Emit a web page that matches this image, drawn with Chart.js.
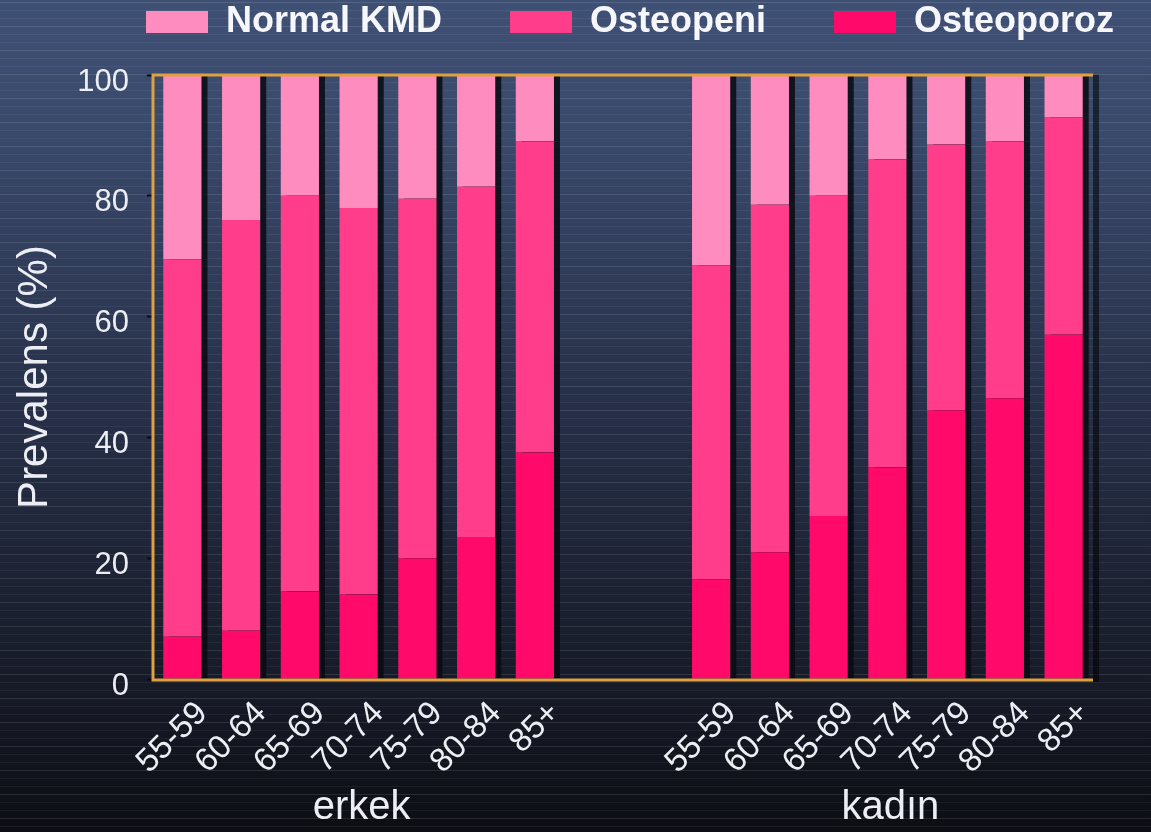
<!DOCTYPE html>
<html>
<head>
<meta charset="utf-8">
<script src="https://cdn.jsdelivr.net/npm/chart.js@4"></script>
<style>
  html, body { margin: 0; background: #0d0f15; }
  #wrap { width: 1151px; height: 832px; position: relative; }
</style>
</head>
<body>
<div id="wrap"><canvas id="chart"></canvas></div>
<script>
// values (% of each age group)
const AGES = ["55-59", "60-64", "65-69", "70-74", "75-79", "80-84", "85+"];
const GROUPS = ["erkek", "kadın"];
const Y_TICKS = [0, 20, 40, 60, 80, 100];

const OSTEOPOROZ_ERKEK = [7, 8, 14.5, 14, 20, 23.5, 37.5];
const OSTEOPENI_ERKEK = [62.5, 68, 65.5, 64, 59.5, 58, 51.5];
const NORMAL_ERKEK = [30.5, 24, 20, 22, 20.5, 18.5, 11];

const OSTEOPOROZ_KADIN = [16.5, 21, 27, 35, 44.5, 46.5, 57];
const OSTEOPENI_KADIN = [52, 57.5, 53, 51, 44, 42.5, 36];
const NORMAL_KADIN = [31.5, 21.5, 20, 14, 11.5, 11, 7];

const GAP = 2; // empty slots between the two groups
const gapLabels = Array(GAP).fill("");
const gapVals = Array(GAP).fill(null);
const labels = [...AGES, ...gapLabels, ...AGES];
const join = (a, b) => [...a, ...gapVals, ...b];

const FONT = '"Liberation Sans", Arial, sans-serif';
const TXT = "#eceef4";

const bgPlugin = {
  id: "bg",
  beforeDraw(chart) {
    const { ctx, width, height } = chart;
    ctx.save();
    const g = ctx.createLinearGradient(0, 0, 0, height);
    g.addColorStop(0, "#3f5075");
    g.addColorStop(0.15, "#3a4a6c");
    g.addColorStop(0.5, "#262f47");
    g.addColorStop(0.82, "#171b28");
    g.addColorStop(1, "#0c0e14");
    ctx.fillStyle = g;
    ctx.fillRect(0, 0, width, height);
    // faint scanline texture
    for (let y = 2; y < height; y += 8) {
      ctx.fillStyle = (y % 24 === 2) ? "rgba(255,255,255,0.11)" : "rgba(255,255,255,0.055)";
      ctx.fillRect(0, y, width, 1);
    }
    ctx.restore();
  },
};

const shadowPlugin = {
  id: "barShadow",
  beforeDatasetsDraw(chart) {
    const ctx = chart.ctx;
    ctx.save();
    ctx.shadowColor = "rgba(8,10,18,0.85)";
    ctx.shadowOffsetX = 6;
    ctx.shadowOffsetY = 0;
    ctx.shadowBlur = 0;
  },
  afterDatasetsDraw(chart) {
    chart.ctx.restore();
  },
};

const framePlugin = {
  id: "frame",
  afterDatasetsDraw(chart) {
    const { ctx, chartArea: a } = chart;
    ctx.save();
    ctx.fillStyle = "rgba(0,0,0,0.55)";
    ctx.fillRect(a.right, a.top, 6, a.bottom - a.top + 3);
    ctx.strokeStyle = "#e0a040";
    ctx.lineWidth = 3;
    ctx.beginPath();
    ctx.moveTo(a.right, a.top);
    ctx.lineTo(a.left, a.top);
    ctx.lineTo(a.left, a.bottom + 1);
    ctx.lineTo(a.right, a.bottom + 1);
    ctx.stroke();
    ctx.restore();
  },
};

const groupPlugin = {
  id: "groupLabels",
  afterDraw(chart) {
    const { ctx, scales } = chart;
    const x = scales.x;
    const mid = (AGES.length - 1) / 2;
    ctx.save();
    ctx.font = "40px " + FONT;
    ctx.fillStyle = TXT;
    ctx.textAlign = "center";
    ctx.textBaseline = "middle";
    GROUPS.forEach((g, i) => {
      const idx = mid + i * (AGES.length + GAP);
      ctx.fillText(g, x.getPixelForValue(idx) + 3, 808);
    });
    ctx.restore();
  },
};

// put the legend where the original has it
const LEG_X = 146, LEG_Y = 4;
const legendPlace = {
  id: "legendPlace",
  afterLayout(chart) {
    const l = chart.legend;
    const p = l.options.labels.padding;
    l.left = LEG_X - p;
    l.top = LEG_Y - p;
    l.right = 4000;
  },
};

new Chart(document.getElementById("chart"), {
  type: "bar",
  data: {
    labels,
    datasets: [
      { label: "Osteoporoz", data: join(OSTEOPOROZ_ERKEK, OSTEOPOROZ_KADIN), backgroundColor: "#ff0a6a" },
      { label: "Osteopeni", data: join(OSTEOPENI_ERKEK, OSTEOPENI_KADIN), backgroundColor: "#ff3d8b" },
      { label: "Normal KMD", data: join(NORMAL_ERKEK, NORMAL_KADIN), backgroundColor: "#ff8cbf" },
    ],
  },
  options: {
    responsive: true,
    maintainAspectRatio: false,
    animation: false,
    layout: { padding: { left: 0, right: 58, top: 0, bottom: 0 } },
    datasets: { bar: { categoryPercentage: 1, barPercentage: 0.65, borderWidth: 0 } },
    scales: {
      x: {
        stacked: true,
        grid: { display: false },
        border: { display: false },
        ticks: {
          color: TXT,
          font: { family: FONT, size: 33 },
          maxRotation: 45,
          minRotation: 45,
          autoSkip: false,
          padding: 7,
          labelOffset: 20,
        },
        afterFit: (s) => { s.height = 153; },
      },
      y: {
        stacked: true,
        min: 0,
        max: 100,
        afterBuildTicks: (s) => { s.ticks = Y_TICKS.map((v) => ({ value: v })); },
        grid: { drawOnChartArea: false, tickLength: 6, tickColor: "#0a0c10", tickWidth: 2 },
        border: { display: false },
        ticks: {
          color: TXT,
          font: { family: FONT, size: 31 },
          padding: 18,
          labelOffset: 7,
        },
        title: {
          display: true,
          text: "Prevalens (%)",
          color: TXT,
          font: { family: FONT, size: 42 },
          padding: { top: 10, bottom: 0 },
        },
        afterFit: (s) => { s.width = 153; },
      },
    },
    plugins: {
      legend: {
        reverse: true,
        align: "start",
        maxHeight: 75,
        labels: {
          color: "#f6f7fb",
          font: { family: FONT, size: 36, weight: "bold" },
          boxWidth: 62,
          boxHeight: 22,
          padding: 68,
        },
      },
      tooltip: { enabled: false },
    },
  },
  plugins: [bgPlugin, shadowPlugin, framePlugin, groupPlugin, legendPlace],
});
</script>
</body>
</html>
